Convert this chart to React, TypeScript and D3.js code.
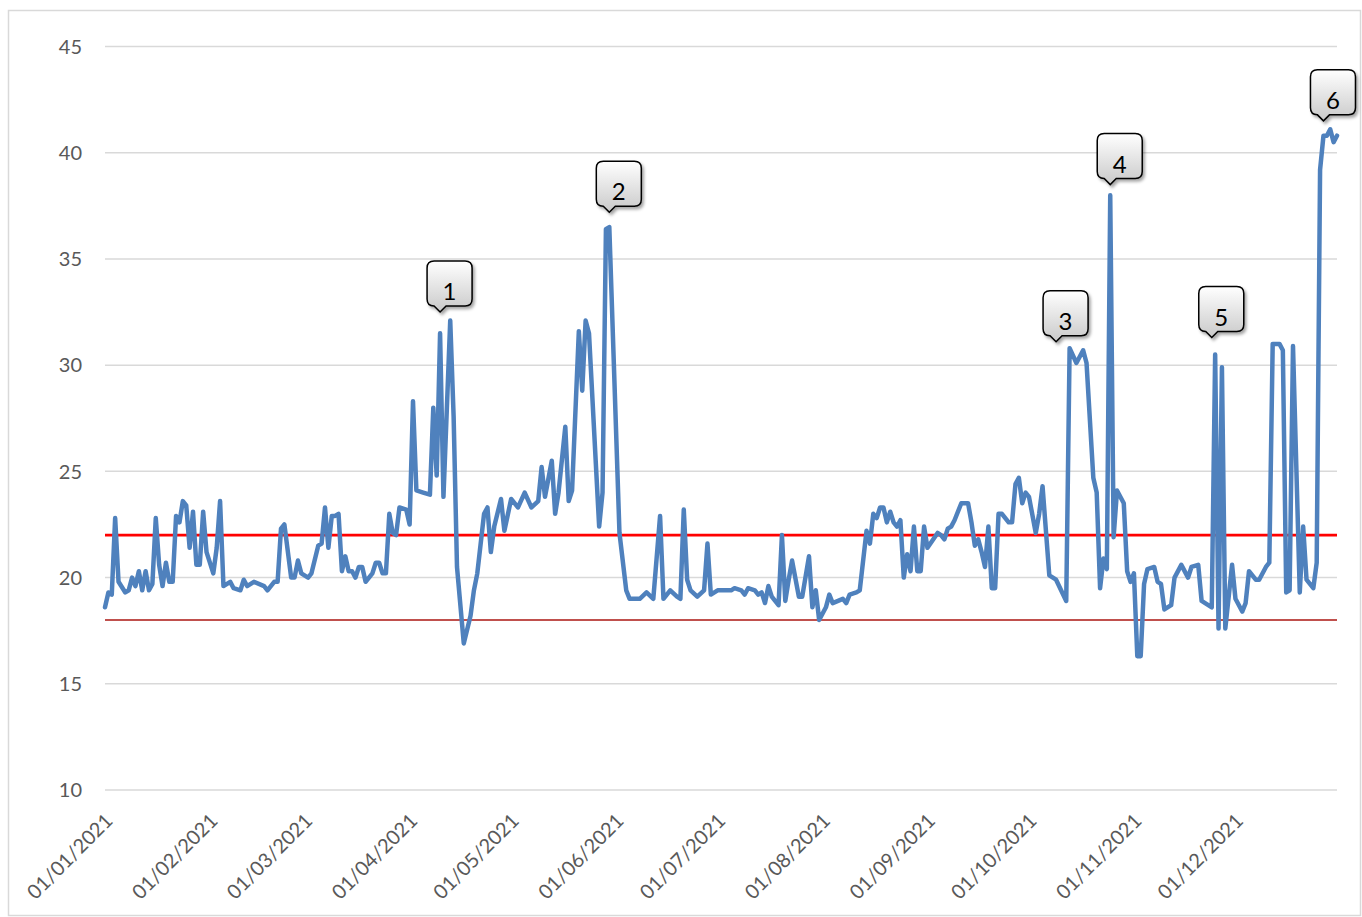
import React, { useEffect, useRef } from 'react'
import * as d3 from 'd3'

// daily values, [day of month, value]
const jan = [[1,18.6],[2,19.3],[3,19.2],[4,22.8],[5,19.8],[7,19.3],[8,19.4],[9,20.0],[10,19.6],[11,20.3],[12,19.4],[13,20.3],[14,19.4],[15,19.7],[16,22.8],[17,20.6],[18,19.6],[19,20.7],[20,19.8],[21,19.8],[22,22.9],[23,22.6],[24,23.6],[25,23.4],[26,21.4],[27,23.1],[28,20.6],[29,20.6],[30,23.1],[31,21.2]]
const feb = [[2,20.2],[3,21.4],[4,23.6],[5,19.6],[7,19.8],[8,19.5],[10,19.4],[11,19.9],[12,19.6],[14,19.8],[17,19.6],[18,19.4],[20,19.8],[21,19.8],[22,22.3],[23,22.5],[25,20.0],[26,20.0],[27,20.8],[28,20.2]]
const mar = [[2,20.0],[3,20.2],[5,21.5],[6,21.6],[7,23.3],[8,21.4],[9,22.9],[10,22.9],[11,23.0],[12,20.3],[13,21.0],[14,20.3],[15,20.3],[16,20.0],[17,20.5],[18,20.5],[19,19.8],[21,20.2],[22,20.7],[23,20.7],[24,20.2],[25,20.2],[26,23.0],[27,22.1],[28,22.0],[29,23.3],[31,23.2]]
const apr = [[1,22.5],[2,28.3],[3,24.1],[5,24.0],[7,23.9],[8,28.0],[9,24.8],[10,31.5],[11,23.8],[13,32.1],[14,27.6],[15,20.5],[17,16.9],[19,18.2],[20,19.4],[21,20.2],[23,23.0],[24,23.3],[25,21.2],[26,22.4],[28,23.7],[29,22.2]]
const may = [[1,23.7],[3,23.3],[5,24.0],[7,23.3],[9,23.6],[10,25.2],[11,23.8],[13,25.5],[14,23.0],[15,24.0],[17,27.1],[18,23.6],[19,24.1],[21,31.6],[22,28.8],[23,32.1],[24,31.5],[27,22.4],[28,24.0],[29,36.4],[30,36.5]]
const jun = [[2,22.1],[4,19.4],[5,19.0],[8,19.0],[10,19.3],[12,19.0],[14,22.9],[15,19.0],[17,19.4],[19,19.1],[20,19.0],[21,23.2],[22,19.9],[23,19.4],[25,19.1],[27,19.4],[28,21.6],[29,19.2]]
const jul = [[1,19.4],[5,19.4],[6,19.5],[8,19.4],[9,19.2],[10,19.5],[12,19.4],[13,19.2],[14,19.3],[15,18.8],[16,19.6],[17,19.1],[18,18.9],[19,18.7],[20,22.0],[21,18.9],[22,19.9],[23,20.8],[25,19.1],[26,19.1],[28,21.0],[29,18.6],[30,19.4],[31,18.0]]
const aug = [[2,18.6],[3,19.2],[4,18.8],[7,19.0],[8,18.8],[9,19.2],[11,19.3],[12,19.4],[14,22.2],[15,21.6],[16,23.0],[17,22.8],[18,23.3],[19,23.3],[20,22.6],[21,23.1],[22,22.6],[23,22.4],[24,22.7],[25,20.0],[26,21.1],[27,20.3],[28,22.4],[29,20.3],[30,20.3],[31,22.4]]
const sep = [[1,21.4],[4,22.1],[5,22.0],[6,21.8],[7,22.3],[8,22.4],[9,22.7],[11,23.5],[13,23.5],[14,22.6],[15,21.5],[16,21.8],[17,21.2],[18,20.5],[19,22.4],[20,19.5],[21,19.5],[22,23.0],[23,23.0],[25,22.6],[26,22.6],[27,24.4],[28,24.7],[29,23.5],[30,24.0]]
const oct = [[1,23.8],[3,22.1],[4,23.0],[5,24.3],[7,20.1],[9,19.9],[12,18.9],[13,30.8],[15,30.1],[17,30.7],[18,30.1],[20,24.7],[21,24.0],[22,19.5],[23,20.9],[24,20.4],[25,38.0],[26,21.9],[27,24.1],[29,23.5],[30,20.3],[31,19.8]]
const nov = [[1,20.2],[2,16.3],[3,16.3],[4,19.7],[5,20.4],[7,20.5],[8,19.8],[9,19.7],[10,18.5],[12,18.7],[13,20.0],[15,20.6],[17,20.0],[18,20.5],[20,20.6],[21,18.9],[24,18.6],[25,30.5],[26,17.6],[27,29.9],[28,17.6],[30,20.6]]
const dec = [[1,19.0],[3,18.4],[4,18.8],[5,20.3],[7,19.9],[8,19.9],[10,20.5],[11,20.7],[12,31.0],[13,31.0],[14,31.0],[15,30.7],[16,19.3],[17,19.4],[18,30.9],[20,19.3],[21,22.4],[22,19.9],[24,19.5],[25,20.7],[26,39.2],[27,40.8],[28,40.8],[29,41.1],[30,40.5],[31,40.8]]

const yTicks = [10, 15, 20, 25, 30, 35, 40, 45]
const upperLimit = 22
const lowerLimit = 18

// numbered callouts: label, date pointed at, level of the pointer tip
const calloutLabels = ['1', '2', '3', '4', '5', '6']
const calloutDates = ['2021-04-10', '2021-05-30', '2021-10-09', '2021-10-25', '2021-11-24', '2021-12-27']
const calloutLevels = [32.5, 37.2, 31.1, 38.5, 31.3, 41.5]

const FONT = 'Lato, "Open Sans", sans-serif'

const App = () => {
  const ref = useRef(null)

  useEffect(() => {
    const months = [jan, feb, mar, apr, may, jun, jul, aug, sep, oct, nov, dec]
    const data = []
    months.forEach((m, i) => m.forEach(([d, v]) => data.push({ date: new Date(2021, i, d), value: v })))

    const left = 105, right = 1337, top = 46.5, bottom = 790

    const xScale = d3.scaleTime()
      .domain([new Date(2021, 0, 1), new Date(2021, 11, 31)])
      .range([left, right])

    const yScale = d3.scaleLinear()
      .domain([10, 45])
      .range([bottom, top])

    const svg = d3.select(ref.current)

    const defs = svg.append('defs')
    const grad = defs.append('linearGradient').attr('id', 'cg').attr('x1', 0).attr('y1', 0).attr('x2', 0).attr('y2', 1)
    grad.append('stop').attr('offset', '0%').attr('stop-color', '#ffffff')
    grad.append('stop').attr('offset', '100%').attr('stop-color', '#c9c9c9')
    defs.append('filter').attr('id', 'sh').attr('x', '-20%').attr('y', '-20%').attr('width', '150%').attr('height', '150%')
      .append('feDropShadow').attr('dx', 2).attr('dy', 2.5).attr('stdDeviation', 1.6)
      .attr('flood-color', '#000').attr('flood-opacity', 0.35)

    // chart frame
    svg.append('rect')
      .attr('x', 8.5).attr('y', 10.5)
      .attr('width', 1352).attr('height', 905)
      .attr('fill', '#fff').attr('stroke', '#d9d9d9').attr('stroke-width', 1.5)

    const g = svg.append('g')

    // gridlines + y labels
    g.selectAll('.grid')
      .data(yTicks)
      .enter()
      .append('line')
      .attr('x1', left).attr('x2', right)
      .attr('y1', d => yScale(d)).attr('y2', d => yScale(d))
      .attr('stroke', '#d9d9d9').attr('stroke-width', 1.5)

    g.selectAll('.ylab')
      .data(yTicks)
      .enter()
      .append('text')
      .attr('x', 82)
      .attr('y', d => yScale(d))
      .attr('dy', '0.36em')
      .attr('text-anchor', 'end')
      .attr('font-family', FONT)
      .attr('font-size', 20)
      .attr('fill', '#595959')
      .text(d => d)

    // x labels at month starts
    const monthTicks = d3.timeMonth.range(new Date(2021, 0, 1), new Date(2021, 11, 31))
    const fmt = d3.timeFormat('%d/%m/%Y')
    g.selectAll('.xlab')
      .data(monthTicks)
      .enter()
      .append('text')
      .attr('transform', d => 'translate(' + (xScale(d) + 9) + ',822) rotate(-45)')
      .attr('text-anchor', 'end')
      .attr('font-family', FONT)
      .attr('font-size', 20)
      .attr('fill', '#595959')
      .text(d => fmt(d))

    // limit lines
    g.append('line')
      .attr('x1', left).attr('x2', right)
      .attr('y1', yScale(lowerLimit)).attr('y2', yScale(lowerLimit))
      .attr('stroke', '#c0504d').attr('stroke-width', 2)
    g.append('line')
      .attr('x1', left).attr('x2', right)
      .attr('y1', yScale(upperLimit)).attr('y2', yScale(upperLimit))
      .attr('stroke', '#ff0000').attr('stroke-width', 2.8)

    const line = d3.line()
      .x(d => xScale(d.date))
      .y(d => yScale(d.value))

    g.append('path')
      .datum(data)
      .attr('fill', 'none')
      .attr('stroke', '#4f81bd')
      .attr('stroke-width', 4.5)
      .attr('stroke-linejoin', 'round')
      .attr('stroke-linecap', 'round')
      .attr('d', line)

    // callouts
    const parse = d3.timeParse('%Y-%m-%d')
    calloutLabels.forEach((lab, i) => {
      const tx = xScale(parse(calloutDates[i]))
      const ty = yScale(calloutLevels[i])
      const W = 45, H = 45, r = 7
      const L = tx - 13, T = ty - 51, B = T + H
      const p = d3.path()
      p.moveTo(L + r, T)
      p.lineTo(L + W - r, T)
      p.quadraticCurveTo(L + W, T, L + W, T + r)
      p.lineTo(L + W, B - r)
      p.quadraticCurveTo(L + W, B, L + W - r, B)
      p.lineTo(L + 19, B)
      p.lineTo(tx, ty)
      p.lineTo(L + 7, B)
      p.lineTo(L + r, B)
      p.quadraticCurveTo(L, B, L, B - r)
      p.lineTo(L, T + r)
      p.quadraticCurveTo(L, T, L + r, T)
      p.closePath()
      g.append('path')
        .attr('d', p.toString())
        .attr('fill', 'url(#cg)')
        .attr('stroke', '#000')
        .attr('stroke-width', 1.5)
        .attr('filter', 'url(#sh)')
      g.append('text')
        .attr('x', L + W / 2)
        .attr('y', B - 6)
        .attr('text-anchor', 'middle')
        .attr('font-family', FONT)
        .attr('font-size', 24)
        .attr('fill', '#000')
        .text(lab)
    })

    return () => { d3.select(ref.current).selectAll('*').remove() }
  }, [])

  return (
    <svg ref={ref} width={1362} height={917}
      style={{ position: 'absolute', left: 0, top: 0 }}>
    </svg>
  )
}

export default App
